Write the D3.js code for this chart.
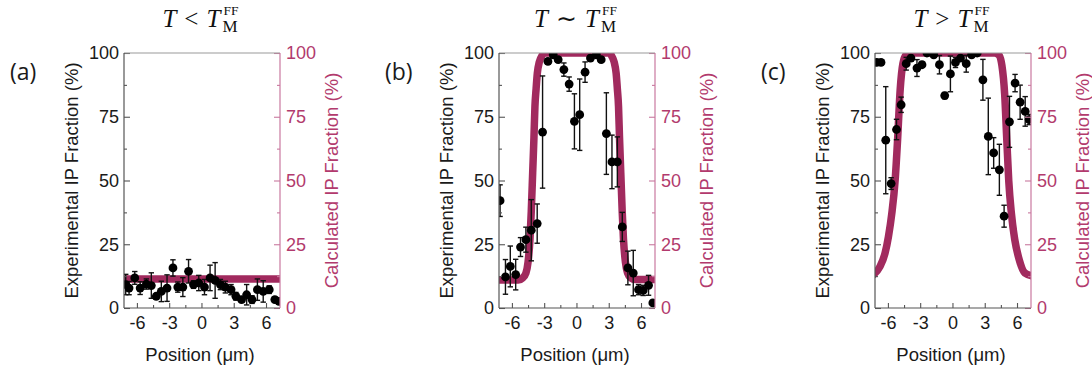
<!DOCTYPE html>
<html>
<head>
<meta charset="utf-8">
<script src="https://cdn.jsdelivr.net/npm/d3@7"></script>
<style>
body { margin: 0; background: #fff; }
svg { display: block; }
</style>
</head>
<body>
<div id="chart"></div>
<script>
// ---- data ----

// axis ticks
var xTicks = [-6, -3, 0, 3, 6];
var xMinor = [-4.5, -1.5, 1.5, 4.5];
var yTicks = [0, 25, 50, 75, 100];
var yMinor = [12.5, 37.5, 62.5, 87.5];
var xDomain = [-7.2, 7.3];

// panel labels / titles
var panelLabels = ["(a)", "(b)", "(c)"];
var titleOps = ["<", "\u223C", ">"];

// (a) T < TM
var posA = [-7.04,-6.73,-6.2,-5.7,-5.12,-4.66,-4.2,-3.73,-3.2,-2.65,-2.2,-1.73,-1.2,-0.74,-0.25,0.28,0.8,1.27,1.76,2.22,2.75,3.2,3.73,4.2,4.7,5.2,5.74,6.3,6.82,7.2];
var expA = [9.2,7.8,11.8,7.8,9.4,8.8,4.6,6.5,7.8,15.7,8.2,8.2,14.4,9.2,9.8,8.2,11.8,10.8,9.2,8.2,7.2,4.6,3.3,5.2,3.3,7.2,6.5,7.2,3.3,2.6];
var errA = [4,2.6,2.5,2.5,2,5,1,4,5.2,3.2,2,3.7,4.6,1.5,3,3,5,7,2,2.3,2,1.5,1,4,1.5,4.2,4.2,1.5,1,1];
var calcPosA = [-7.4, 7.4];
var calcA = [11.4, 11.4];

// (b) T ~ TM
var posB = [-7.1,-6.6,-6.15,-5.65,-5.2,-4.7,-4.2,-3.65,-3.15,-2.65,-2.16,-1.7,-1.17,-0.68,-0.19,0.3,0.8,1.3,1.85,2.3,2.78,3.3,3.8,4.26,4.78,5.28,5.77,6.2,6.7,7.1];
var expB = [42.1,12.2,16.3,13.1,23.9,26.8,30.5,33.1,69.0,96.7,99.3,97.4,93.5,87.8,73.2,75.8,92.5,98,99.3,97.4,68.4,57.3,57.3,31.8,15.7,13.7,7.2,6.9,8.9,2.0];
var errB = [6.2,6.8,8,6,3.7,4.9,12,7.7,22,1,1,1,2.6,2.8,10.8,14,4,1,1,1,16,10.5,9.8,5.7,6.6,8.9,2,2,3.9,1];
var calcPosB = [-7.4,-5.4,-5.0,-4.7,-4.5,-4.32,-4.2,-4.07,-3.95,-3.86,-3.75,-3.64,-3.45,-3.2,-2.9,2.95,3.25,3.5,3.69,3.8,3.91,4.0,4.12,4.25,4.37,4.55,4.75,5.05,5.45,7.4];
var calcB = [11,11,11.8,13.7,18,27,38,53,67,79,86,92,96.5,99,100,100,99,96.5,92,86,79,67,53,38,27,18,13.7,11.8,11.2,11.2];

// (c) T > TM
var posC = [-7.04,-6.64,-6.2,-5.7,-5.2,-4.77,-4.3,-3.86,-3.3,-2.83,-2.37,-1.74,-1.21,-0.72,-0.19,0.28,0.75,1.28,1.78,2.3,2.83,3.33,3.83,4.36,4.8,5.3,5.82,6.29,6.76,7.13];
var expC = [96.3,96.3,65.8,48.8,70,79.7,95.8,98,94.1,95.4,100,99.3,95.4,83.3,91.8,96.3,98,95.8,99.3,100,89.5,67.3,60.8,54.2,36,73,88.2,80.7,77.1,73.9];
var errC = [1,1,21,2.3,4,3,2.5,1,3.3,1,1,1,3.6,1.2,7,2,1,3.3,1,1,8,15,6,10,4.3,10,3.4,6.7,5.8,2];
var calcPosC = [-7.4,-6.73,-6.26,-5.95,-5.64,-5.33,-5.1,-4.86,-4.6,-4.3,-3.9,3.9,4.3,4.6,4.85,5.05,5.23,5.48,5.79,6.2,6.73,7.4];
var calcC = [12.8,16.3,21.6,28,37,50,66,85.6,96,99.3,100,100,99.3,95,84,66,50,37,26.8,19,13.7,12.6];

// ---- layout ----
var svgWidth = 1092, svgHeight = 372;
var plotTop = 53, plotH = 255, plotW = 156;
var lefts = [124, 499, 875];

var calcColor = "#a12a5e";
var pinkText = "#b23a6d";
var pinkAxis = "#c9789f";
var font = "'Liberation Sans', Arial, sans-serif";

var panels = [
	{pos: posA, exp: expA, err: errA, cpos: calcPosA, calc: calcA},
	{pos: posB, exp: expB, err: errB, cpos: calcPosB, calc: calcB},
	{pos: posC, exp: expC, err: errC, cpos: calcPosC, calc: calcC}
];

var svg = d3.select("#chart")
	.append("svg")
	.attr("width", svgWidth)
	.attr("height", svgHeight);

panels.forEach(function(p, i) {
	var xScale = d3.scaleLinear().domain(xDomain).range([0, plotW]);
	var yScale = d3.scaleLinear().domain([0, 100]).range([plotH, 0]);

	var g = svg.append("g")
		.attr("transform", `translate(${lefts[i]}, ${plotTop})`);

	g.append("clipPath").attr("id", "clip" + i)
		.append("rect").attr("width", plotW).attr("height", plotH);

	var inner = g.append("g").attr("clip-path", `url(#clip${i})`);

	// calculated curve
	var calcData = p.cpos.map(function(d, k) { return {x: d, y: p.calc[k]}; });
	var line = d3.line()
		.x(d => xScale(d.x))
		.y(d => yScale(d.y))
		.curve(d3.curveMonotoneX);
	inner.append("path")
		.datum(calcData)
		.attr("d", line)
		.attr("fill", "none")
		.attr("stroke", calcColor)
		.attr("stroke-width", 7.5)
		.attr("stroke-linejoin", "round");

	// experimental points with error bars
	var pts = p.pos.map(function(d, k) { return {x: d, y: p.exp[k], e: p.err[k]}; });
	var eb = inner.selectAll(".eb").data(pts).enter().append("g")
		.attr("stroke", "#111").attr("stroke-width", 1.4);
	eb.append("line")
		.attr("x1", d => xScale(d.x)).attr("x2", d => xScale(d.x))
		.attr("y1", d => yScale(d.y - d.e)).attr("y2", d => yScale(d.y + d.e));
	eb.append("line")
		.attr("x1", d => xScale(d.x) - 2.7).attr("x2", d => xScale(d.x) + 2.7)
		.attr("y1", d => yScale(d.y + d.e)).attr("y2", d => yScale(d.y + d.e));
	eb.append("line")
		.attr("x1", d => xScale(d.x) - 2.7).attr("x2", d => xScale(d.x) + 2.7)
		.attr("y1", d => yScale(d.y - d.e)).attr("y2", d => yScale(d.y - d.e));

	inner.selectAll(".pt").data(pts).enter().append("circle")
		.attr("cx", d => xScale(d.x))
		.attr("cy", d => yScale(d.y))
		.attr("r", 4.4)
		.attr("fill", "#000");

	// axes
	var leftAxis = d3.axisLeft(yScale).tickValues(yTicks).tickSize(-6).tickPadding(5)
		.tickFormat(d => String(d));
	var leftMinor = d3.axisLeft(yScale).tickValues(yMinor).tickSize(-3).tickFormat("");
	var rightAxis = d3.axisRight(yScale).tickValues(yTicks).tickSize(-6).tickPadding(6)
		.tickFormat(d => String(d));
	var rightMinor = d3.axisRight(yScale).tickValues(yMinor).tickSize(-3).tickFormat("");
	var bottomAxis = d3.axisBottom(xScale).tickValues(xTicks).tickSize(-5).tickPadding(8)
		.tickFormat(d => String(d));
	var bottomMinor = d3.axisBottom(xScale).tickValues(xMinor).tickSize(-3).tickFormat("");

	function styleAxis(sel, col, textCol) {
		sel.select(".domain").remove();
		sel.selectAll("line").attr("stroke", col).attr("stroke-width", 1.1);
		sel.selectAll("text")
			.attr("fill", textCol)
			.style("font-family", font)
			.style("font-size", "18px");
	}

	g.append("g").call(leftAxis).call(styleAxis, "#555", "#1a1a1a");
	g.append("g").call(leftMinor).call(styleAxis, "#555", "#1a1a1a");
	g.append("g").attr("transform", `translate(${plotW},0)`)
		.call(rightAxis).call(styleAxis, pinkAxis, pinkText);
	g.append("g").attr("transform", `translate(${plotW},0)`)
		.call(rightMinor).call(styleAxis, pinkAxis, pinkText);
	g.append("g").attr("transform", `translate(0,${plotH})`)
		.call(bottomAxis).call(styleAxis, "#555", "#1a1a1a");
	g.append("g").attr("transform", `translate(0,${plotH})`)
		.call(bottomMinor).call(styleAxis, "#555", "#1a1a1a");

	// frame
	g.append("line").attr("x1", 0).attr("x2", plotW).attr("y1", 0).attr("y2", 0)
		.attr("stroke", "#999").attr("stroke-width", 1.2);
	g.append("line").attr("x1", 0).attr("x2", plotW).attr("y1", plotH).attr("y2", plotH)
		.attr("stroke", "#555").attr("stroke-width", 1.2);
	g.append("line").attr("x1", 0).attr("x2", 0).attr("y1", 0).attr("y2", plotH)
		.attr("stroke", "#555").attr("stroke-width", 1.2);
	g.append("line").attr("x1", plotW).attr("x2", plotW).attr("y1", 0).attr("y2", plotH)
		.attr("stroke", pinkAxis).attr("stroke-width", 1.2);

	// axis labels
	g.append("text")
		.attr("transform", `translate(-52, ${plotH / 2}) rotate(-90)`)
		.attr("text-anchor", "middle")
		.attr("dy", "0.35em")
		.style("font-family", font).style("font-size", "18.5px")
		.attr("fill", "#1a1a1a")
		.text("Experimental IP Fraction (%)");
	g.append("text")
		.attr("transform", `translate(${plotW + 52}, ${plotH / 2}) rotate(-90)`)
		.attr("text-anchor", "middle")
		.attr("dy", "0.35em")
		.style("font-family", font).style("font-size", "18.5px")
		.attr("fill", pinkText)
		.text("Calculated IP Fraction (%)");
	g.append("text")
		.attr("x", plotW / 2 - 2)
		.attr("y", plotH + 53)
		.attr("text-anchor", "middle")
		.style("font-family", font).style("font-size", "18.5px")
		.attr("fill", "#1a1a1a")
		.text("Position (\u03BCm)");

	// panel letter
	svg.append("text")
		.attr("x", lefts[i] - 114)
		.attr("y", 80)
		.style("font-family", "'Open Sans', sans-serif").style("font-size", "23px")
		.attr("fill", "#1a1a1a")
		.text(panelLabels[i]);

	// title: T op T_M^FF
	var tg = svg.append("g");
	var t1 = tg.append("text")
		.style("font-family", "'Liberation Serif', serif").style("font-size", "25px")
		.attr("fill", "#111");
	t1.append("tspan").style("font-style", "italic").text("T");
	t1.append("tspan").attr("dx", 8).text(titleOps[i]);
	t1.append("tspan").attr("dx", 8).style("font-style", "italic").text("T");
	var bb = t1.node().getBBox();
	var right = bb.x + bb.width;
	var sub = tg.append("text").attr("x", right).attr("y", 5)
		.style("font-family", "'Liberation Serif', serif").style("font-size", "17px")
		.attr("fill", "#111").text("M");
	tg.append("text").attr("x", right + 1).attr("y", -12)
		.style("font-family", "'Liberation Serif', serif").style("font-size", "13.5px")
		.attr("fill", "#111").text("FF");
	var total = right + sub.node().getComputedTextLength();
	tg.attr("transform", `translate(${lefts[i] + plotW / 2 - total / 2 - 2}, 27)`);
});
</script>
</body>
</html>
